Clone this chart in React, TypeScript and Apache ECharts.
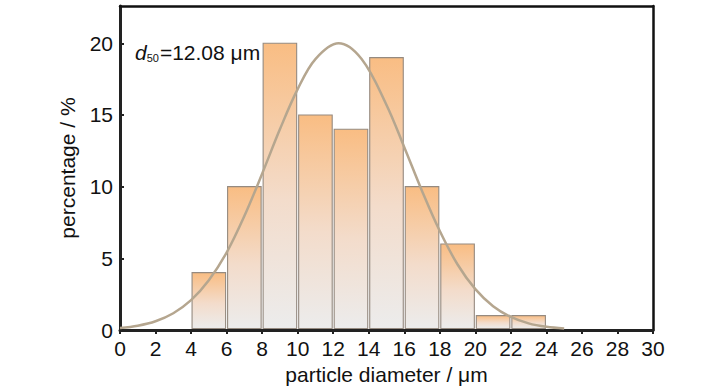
import React, { useEffect, useRef } from "react";
import * as echarts from "echarts";

const binLeft = [4, 6, 8, 10, 12, 14, 16, 18, 20, 22];
const binRight = [6, 8, 10, 12, 14, 16, 18, 20, 22, 24];
const percentages = [4, 10, 20, 15, 14, 19, 10, 6, 1, 1];

const curveX = [0, 1, 2, 3, 4, 5, 6, 7, 8, 9, 10, 11, 12.3, 13.6, 15, 16, 17, 18, 19, 20, 21, 22, 23, 24, 25];
const curveY = [0.14, 0.3, 0.61, 1.17, 2.08, 3.47, 5.4, 7.95, 10.9, 14.0, 16.8, 18.9, 20.0, 18.9, 15.7, 12.75, 9.7, 6.9, 4.57, 2.85, 1.66, 0.91, 0.46, 0.22, 0.1];

const xTicks = [0, 2, 4, 6, 8, 10, 12, 14, 16, 18, 20, 22, 24, 26, 28, 30];
const yTicks = [0, 5, 10, 15, 20];

const FONT = "'Liberation Sans Narrow', 'Arial Narrow', 'Liberation Sans', Arial, sans-serif";

export default function App() {
  const ref = useRef<HTMLDivElement>(null);
  useEffect(() => {
    if (!ref.current) return;
    const chart = echarts.init(ref.current, null, { renderer: "svg" });
    const barData = binLeft.map((l, i) => [l, binRight[i], percentages[i]]);
    chart.setOption({
      animation: false,
      backgroundColor: "#ffffff",
      textStyle: { fontFamily: FONT },
      grid: {
        left: 120,
        right: 75,
        top: 6,
        bottom: 59,
        show: false,
      },
      xAxis: [
        {
          type: "value",
          min: 0,
          max: 30,
          interval: 2,
          name: "particle diameter / μm",
          nameLocation: "middle",
          nameGap: 34,
          nameTextStyle: { fontSize: 21, color: "#111", fontFamily: FONT },
          axisLine: { show: true, onZero: false, lineStyle: { color: "#222", width: 3 } },
          axisTick: { show: true, inside: false, length: 4, lineStyle: { color: "#222", width: 2 } },
          minorTick: { show: true, splitNumber: 2, length: 2, lineStyle: { color: "#222", width: 2 } },
          axisLabel: {
            fontSize: 21,
            color: "#111",
            margin: 8,
            fontFamily: FONT,
            formatter: (v: number) => (xTicks.includes(v) ? String(v) : ""),
          },
          splitLine: { show: false },
        },
        {
          type: "value",
          position: "top",
          min: 0,
          max: 30,
          axisLine: { show: true, onZero: false, lineStyle: { color: "#111", width: 2.5 } },
          axisTick: { show: false },
          axisLabel: { show: false },
          splitLine: { show: false },
        },
      ],
      yAxis: [
        {
          type: "value",
          min: 0,
          max: 22.6,
          interval: 5,
          name: "percentage / %",
          nameLocation: "middle",
          nameGap: 42,
          nameTextStyle: { fontSize: 21, color: "#111", fontFamily: FONT },
          axisLine: { show: true, onZero: false, lineStyle: { color: "#222", width: 3 } },
          axisTick: { show: true, inside: true, length: 4, lineStyle: { color: "#222", width: 2 } },
          axisLabel: {
            fontSize: 21,
            color: "#111",
            margin: 7,
            fontFamily: FONT,
            showMaxLabel: false,
            formatter: (v: number) => (yTicks.includes(v) ? String(v) : ""),
          },
          splitLine: { show: false },
        },
        {
          type: "value",
          position: "right",
          min: 0,
          max: 22.6,
          axisLine: { show: true, onZero: false, lineStyle: { color: "#111", width: 2.5 } },
          axisTick: { show: false },
          axisLabel: { show: false },
          splitLine: { show: false },
        },
      ],
      graphic: [
        {
          type: "text",
          left: 135,
          top: 42,
          style: {
            text: "{d|d}{s|50}{n|=12.08 μm}",
            rich: {
              d: { fontSize: 21, fontStyle: "italic", fontFamily: FONT, fill: "#111", verticalAlign: "bottom" },
              s: { fontSize: 11, fontFamily: FONT, fill: "#111", verticalAlign: "bottom", padding: [0, 1, 0, 0] },
              n: { fontSize: 21, fontFamily: FONT, fill: "#111", verticalAlign: "bottom" },
            },
          },
          z: 10,
        },
      ],
      series: [
        {
          type: "custom",
          data: barData,
          encode: { x: [0, 1], y: 2 },
          renderItem: (params: any, api: any) => {
            const x0 = api.value(0);
            const x1 = api.value(1);
            const y = api.value(2);
            const p0 = api.coord([x0, y]);
            const p1 = api.coord([x1, 0]);
            const left = p0[0] + 1;
            const width = p1[0] - p0[0] - 2;
            return {
              type: "rect",
              shape: { x: left, y: p0[1], width, height: p1[1] - p0[1] - 1.5 },
              style: {
                fill: new echarts.graphic.LinearGradient(0, 0, 0, 1, [
                  { offset: 0, color: "#f9bd83" },
                  { offset: 0.55, color: "#f3dccb" },
                  { offset: 1, color: "#ececec" },
                ]),
                stroke: "#958a80",
                lineWidth: 1.1,
              },
            };
          },
          z: 2,
        },
        {
          type: "line",
          data: curveX.map((x, i) => [x, curveY[i]]),
          smooth: 0.35,
          showSymbol: false,
          lineStyle: { color: "#b5a68f", width: 2.5 },
          z: 3,
        },
      ],
    });
    return () => chart.dispose();
  }, []);
  return (
    <div
      ref={ref}
      style={{ position: "absolute", left: 0, top: 0, width: 728, height: 390 }}
    />
  );
}
